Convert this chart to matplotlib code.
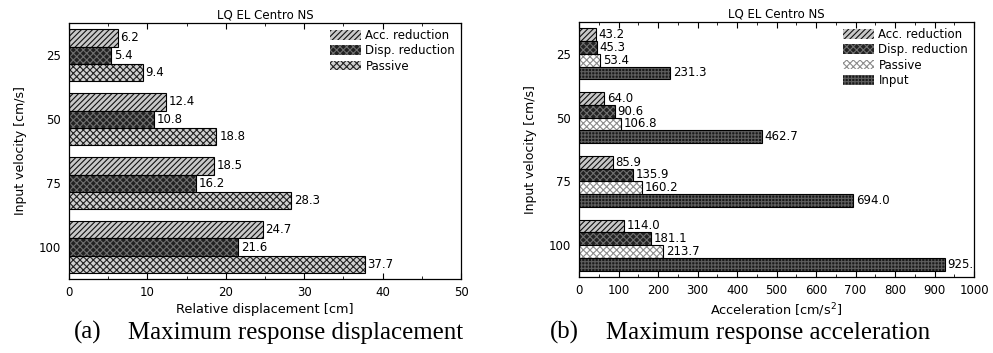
import matplotlib
matplotlib.use("Agg")
import matplotlib.pyplot as plt
import numpy as np
from matplotlib.patches import Patch
from matplotlib.ticker import MultipleLocator

plt.rcParams['font.family'] = ['DejaVu Sans']
plt.rcParams['hatch.linewidth'] = 0.8

velocities = ["25", "50", "75", "100"]
title = "LQ EL Centro NS"

disp_series = ["Acc. reduction", "Disp. reduction", "Passive"]
disp_acc_red = [6.2, 12.4, 18.5, 24.7]
disp_disp_red = [5.4, 10.8, 16.2, 21.6]
disp_passive = [9.4, 18.8, 28.3, 37.7]

acc_series = ["Acc. reduction", "Disp. reduction", "Passive", "Input"]
acc_acc_red = [43.2, 64.0, 85.9, 114.0]
acc_disp_red = [45.3, 90.6, 135.9, 181.1]
acc_passive = [53.4, 106.8, 160.2, 213.7]
acc_input = [231.3, 462.7, 694.0, 925.3]

styles = {
    "Acc. reduction": dict(face="#c8c8c8", hatch_col="#111111", hatch="//////"),
    "Disp. reduction": dict(face="#222222", hatch_col="#707070", hatch="xxxxx"),
    "Passive_a": dict(face="#d0d0d0", hatch_col="#222222", hatch="xxxxx"),
    "Passive_b": dict(face="#ffffff", hatch_col="#8c8c8c", hatch="xxxxx"),
    "Input": dict(face="#1a1a1a", hatch_col="#5e5e5e", hatch="+++++"),
}

fig = plt.figure(figsize=(9.93, 3.53), dpi=100)
axA = fig.add_axes([0.0695, 0.2096, 0.3948, 0.7252])
axB = fig.add_axes([0.5831, 0.2153, 0.3978, 0.7224])

FS = 8.5


def draw(ax, series_vals, style_keys, labels, bh, xmax, major, minor, xlabel, fmt="{:.1f}"):
    n = len(series_vals)
    y = np.arange(1, len(velocities) + 1)
    handles = []
    for i, (vals, sk, lab) in enumerate(zip(series_vals, style_keys, labels)):
        st = styles[sk]
        off = (i - (n - 1) / 2) * bh
        ax.barh(y + off, vals, height=bh, color=st["face"], edgecolor=st["hatch_col"],
                hatch=st["hatch"], linewidth=0)
        ax.barh(y + off, vals, height=bh, fill=False, edgecolor="black", linewidth=0.8)
        for yy, v in zip(y + off, vals):
            ax.annotate(fmt.format(v), (v, yy), xytext=(2.0, 0), textcoords="offset points",
                        va="center", ha="left", fontsize=FS, clip_on=True,
                        annotation_clip=True)
        handles.append(Patch(facecolor=st["face"], edgecolor=st["hatch_col"], hatch=st["hatch"],
                             label=lab, linewidth=0))
    ax.set_xlim(0, xmax)
    ax.set_ylim(len(velocities) + 0.5, 0.5)
    ax.set_yticks(y)
    ax.set_yticklabels(velocities, fontsize=FS)
    ax.tick_params(axis="y", length=0, pad=6)
    ax.xaxis.set_major_locator(MultipleLocator(major))
    ax.xaxis.set_minor_locator(MultipleLocator(minor))
    ax.tick_params(axis="x", which="both", direction="in", top=True, labelsize=FS, pad=5)
    ax.tick_params(axis="x", which="major", length=4)
    ax.tick_params(axis="x", which="minor", length=2)
    for s in ax.spines.values():
        s.set_linewidth(0.9)
    ax.set_xlabel(xlabel, fontsize=9.3, labelpad=3)
    ax.set_ylabel("Input velocity [cm/s]", fontsize=9.0, labelpad=8)
    ax.set_title(title, fontsize=8.5, pad=3)
    ax.legend(handles=handles, loc="upper right", frameon=False, fontsize=FS,
              handlelength=2.6, handleheight=0.9, handletextpad=0.4, labelspacing=0.2,
              borderaxespad=0.3, borderpad=0.2)


draw(axA, [disp_acc_red, disp_disp_red, disp_passive],
     ["Acc. reduction", "Disp. reduction", "Passive_a"], disp_series,
     0.266, 50, 10, 5, "Relative displacement [cm]")
draw(axB, [acc_acc_red, acc_disp_red, acc_passive, acc_input],
     ["Acc. reduction", "Disp. reduction", "Passive_b", "Input"], acc_series,
     0.2, 1000, 100, 50, "Acceleration [cm/s$^2$]")

CFS = 17.9
fig.text(0.0745, 0.057, "(a)", fontsize=CFS, family="Liberation Serif", ha="left", va="center")
fig.text(0.129, 0.057, "Maximum response displacement", fontsize=CFS,
         family="Liberation Serif", ha="left", va="center")
fig.text(0.554, 0.057, "(b)", fontsize=CFS, family="Liberation Serif", ha="left", va="center")
fig.text(0.610, 0.057, "Maximum response acceleration", fontsize=CFS,
         family="Liberation Serif", ha="left", va="center")

fig.savefig("out.png", dpi=100)
